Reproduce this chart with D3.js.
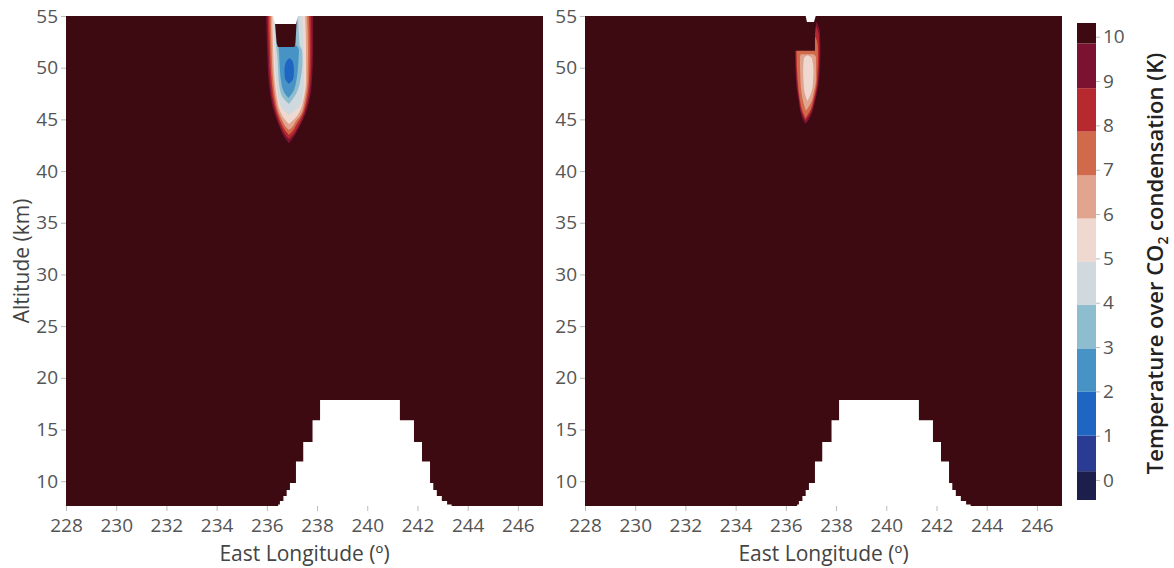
<!DOCTYPE html>
<html>
<head>
<meta charset="utf-8">
<script src="https://cdn.jsdelivr.net/npm/d3@7"></script>
<style>
    body { margin: 0; background: #fff; }
    svg { display: block; font-family: "Open Sans", sans-serif; }
</style>
</head>
<body>
<svg id="chart" width="1174" height="568"></svg>
<script>
// axis ranges and ticks
const lonDomain = [228, 247];
const altDomain = [7.6, 55];
const lonTicks = [228, 230, 232, 234, 236, 238, 240, 242, 244, 246];
const altTicks = [10, 15, 20, 25, 30, 35, 40, 45, 50, 55];

// colorbar: band edges, colors bottom -> top
const cbarDomain = [-0.45, 10.31];
const bandBreaks = [0.2, 1.0, 1.99, 2.97, 3.95, 4.92, 5.9, 6.87, 7.86, 8.84, 9.85];
const bandColors = ["#1c1f4b", "#2a3b93", "#1f66c2", "#4893c6", "#8fbdd0", "#d0d9de",
                    "#efd8d0", "#e0a48f", "#d16a4b", "#b62a2f", "#7b1231", "#3e0a11"];
const cbarTicks = [0, 1, 2, 3, 4, 5, 6, 7, 8, 9, 10];

// contour outlines: [level, rows of [altitude, west lon, east lon]]
const leftContours = [
    [10, [[55.5, 235.97, 237.84], [51.7, 236.01, 237.84], [48.8, 236.07, 237.80], [46.9, 236.17, 237.70], [45.4, 236.33, 237.52], [44.2, 236.52, 237.28], [43.2, 236.72, 237.04], [42.7, 236.88, 236.88]]],
    [9,  [[55.5, 236.03, 237.76], [51.7, 236.07, 237.78], [48.8, 236.13, 237.74], [46.9, 236.23, 237.64], [45.4, 236.39, 237.46], [44.2, 236.58, 237.22], [43.5, 236.74, 237.04], [43.1, 236.88, 236.88]]],
    [8,  [[55.5, 236.09, 237.68], [51.7, 236.13, 237.71], [48.8, 236.19, 237.68], [46.9, 236.29, 237.58], [45.4, 236.45, 237.40], [44.5, 236.60, 237.18], [43.9, 236.74, 237.04], [43.5, 236.88, 236.88]]],
    [7,  [[55.5, 236.15, 237.60], [51.7, 236.19, 237.64], [48.8, 236.25, 237.62], [46.9, 236.35, 237.52], [45.4, 236.51, 237.34], [44.75, 236.64, 237.14], [44.26, 236.76, 237.02], [43.97, 236.88, 236.88]]],
    [6,  [[55.5, 236.21, 237.52], [51.7, 236.25, 237.56], [48.8, 236.31, 237.56], [46.9, 236.41, 237.46], [45.9, 236.51, 237.34], [45.13, 236.67, 237.14], [44.55, 236.88, 236.88]]],
    [5,  [[55.5, 236.27, 237.40], [51.7, 236.31, 237.46], [48.8, 236.37, 237.48], [46.9, 236.48, 237.40], [46.1, 236.60, 237.24], [45.42, 236.88, 236.88]]],
    [4,  [[55.5, 236.33, 237.24], [52.2, 236.37, 237.30], [51.7, 236.39, 237.40], [50.74, 236.43, 237.42], [48.8, 236.47, 237.34], [47.36, 236.58, 237.14], [46.49, 236.88, 236.88]]],
    [3,  [[52.3, 236.45, 237.12], [51.7, 236.48, 237.28], [50.74, 236.50, 237.26], [48.8, 236.56, 237.18], [47.65, 236.68, 237.04], [47.07, 236.86, 236.86]]],
    [2,  [[50.94, 236.90, 236.90], [50.55, 236.76, 237.04], [49.78, 236.70, 237.08], [49.0, 236.72, 237.06], [48.42, 236.88, 236.88]]]
];
const rightContours = [
    [10, [[54.4, 237.21, 237.23], [53.5, 237.12, 237.36], [51.64, 236.37, 237.38], [48.8, 236.40, 237.32], [46.9, 236.50, 237.18], [45.4, 236.62, 237.00], [44.9, 236.70, 236.90], [44.55, 236.78, 236.78]]],
    [9,  [[54.0, 237.21, 237.21], [53.0, 237.12, 237.32], [51.64, 236.39, 237.33], [48.8, 236.44, 237.28], [46.9, 236.53, 237.14], [45.6, 236.64, 236.98], [44.85, 236.78, 236.78]]],
    [8,  [[53.0, 237.17, 237.17], [52.5, 237.12, 237.25], [51.64, 236.43, 237.28], [48.8, 236.47, 237.24], [46.9, 236.56, 237.10], [45.8, 236.66, 236.96], [45.1, 236.78, 236.78]]],
    [7,  [[51.3, 236.60, 237.10], [51.0, 236.56, 237.20], [48.8, 236.58, 237.20], [47.7, 236.62, 237.12], [46.6, 236.70, 237.00], [45.84, 236.80, 236.80]]],
    [6,  [[51.2, 236.86, 236.86], [50.9, 236.72, 237.04], [49.8, 236.69, 237.10], [48.5, 236.71, 237.08], [47.5, 236.76, 237.00], [46.78, 236.86, 236.86]]]
];

// warm cap and missing cells at the model top: [lon, alt]
const leftCap = [[236.31, 55.5], [237.20, 55.5], [237.18, 54.2], [237.14, 52.4], [237.10, 52.0], [236.44, 52.0], [236.39, 52.4], [236.33, 54.2]];
const leftNotch = [[236.25, 55.5], [237.24, 55.5], [237.24, 55.0], [237.16, 54.23], [236.33, 54.23], [236.25, 55.0]];
const rightCap = [[236.30, 55.5], [237.16, 55.5], [237.16, 51.64], [236.30, 51.64]];
const rightNotch = [[236.79, 55.5], [237.19, 55.5], [237.19, 55.0], [237.12, 54.42], [236.84, 54.42], [236.79, 55.0]];

// topography (no data below): [top altitude, west lon, east lon]
const terrainRows = [
    [17.85, 238.12, 241.30],
    [15.9, 237.82, 241.86],
    [13.8, 237.45, 242.18],
    [11.9, 237.16, 242.50],
    [9.82, 236.92, 242.63],
    [9.14, 236.79, 242.77],
    [8.56, 236.66, 242.97],
    [8.08, 236.52, 243.18],
    [7.75, 236.45, 243.36]
];

const plotTop = 16, plotBottom = 506, plotWidth = 477;
const panels = [
    { left: 66, contours: leftContours, cap: leftCap, notch: leftNotch },
    { left: 585, contours: rightContours, cap: rightCap, notch: rightNotch }
];

const bandColor = d3.scaleThreshold().domain(bandBreaks).range(bandColors);

const svg = d3.select("#chart");
panels.forEach((p, i) => drawPanel(p, i));
drawColorbar();

function stepOutline(rows, bottomAlt) {
    const east = [], west = [];
    rows.forEach((r, i) => {
        const next = i + 1 < rows.length ? rows[i + 1][0] : bottomAlt;
        east.push([r[2], r[0]], [r[2], next]);
        west.push([r[1], r[0]], [r[1], next]);
    });
    return east.concat(west.reverse());
}

function styleTicks(a) {
    a.select(".domain").remove();
    a.selectAll(".tick line").attr("stroke", "#bbb");
    a.selectAll(".tick text")
        .attr("fill", "#555")
        .style("font-size", "19px")
        .style("font-family", '"Open Sans", sans-serif');
}

function drawPanel(p, i) {
    const x = d3.scaleLinear().domain(lonDomain).range([p.left, p.left + plotWidth]);
    const y = d3.scaleLinear().domain(altDomain).range([plotBottom, plotTop]);

    svg.append("clipPath").attr("id", "clip" + i)
        .append("rect")
        .attr("x", p.left).attr("y", plotTop)
        .attr("width", plotWidth).attr("height", plotBottom - plotTop);

    const g = svg.append("g").attr("clip-path", `url(#clip${i})`);

    g.append("rect")
        .attr("x", p.left).attr("y", plotTop)
        .attr("width", plotWidth).attr("height", plotBottom - plotTop)
        .attr("fill", bandColors[bandColors.length - 1]);

    const area = d3.area()
        .curve(d3.curveMonotoneY)
        .y(d => y(d[0]))
        .x0(d => x(d[1]))
        .x1(d => x(d[2]));

    p.contours.forEach(([level, rows]) => {
        g.append("path")
            .attr("d", area(rows))
            .attr("fill", bandColor(level - 0.5));
    });

    const line = d3.line().x(d => x(d[0])).y(d => y(d[1]));

    g.append("path").attr("d", line(p.cap) + "Z").attr("fill", bandColors[bandColors.length - 1]);
    g.append("path").attr("d", line(p.notch) + "Z").attr("fill", "#fff");
    g.append("path").attr("d", line(stepOutline(terrainRows, 7.0)) + "Z").attr("fill", "#fff");

    // axes
    svg.append("g")
        .attr("transform", `translate(0,${plotBottom})`)
        .call(d3.axisBottom(x).tickValues(lonTicks).tickSize(5).tickPadding(8))
        .call(styleTicks);
    svg.append("g")
        .attr("transform", `translate(${p.left},0)`)
        .call(d3.axisLeft(y).tickValues(altTicks).tickSize(5).tickPadding(3))
        .call(styleTicks);

    svg.append("text")
        .attr("x", p.left + plotWidth / 2)
        .attr("y", 561)
        .attr("text-anchor", "middle")
        .attr("fill", "#444")
        .style("font-size", "21px")
        .text("East Longitude (º)");

    if (i === 0) {
        svg.append("text")
            .attr("transform", `translate(29,${(plotTop + plotBottom) / 2}) rotate(-90)`)
            .attr("text-anchor", "middle")
            .attr("fill", "#444")
            .style("font-size", "21px")
            .text("Altitude (km)");
    }
}

function drawColorbar() {
    const cx = 1077, cw = 19;
    const cy = d3.scaleLinear().domain(cbarDomain).range([500, 23]);
    const edges = [cbarDomain[0]].concat(bandBreaks, [cbarDomain[1]]);

    svg.append("g").selectAll("rect")
        .data(bandColors)
        .join("rect")
        .attr("x", cx)
        .attr("width", cw)
        .attr("y", (d, k) => cy(edges[k + 1]))
        .attr("height", (d, k) => cy(edges[k]) - cy(edges[k + 1]))
        .attr("fill", d => d);

    svg.append("g")
        .attr("transform", `translate(${cx + cw},0)`)
        .call(d3.axisRight(cy).tickValues(cbarTicks).tickSize(4).tickPadding(3))
        .call(styleTicks);

    const title = svg.append("text")
        .attr("transform", `translate(1163,${(23 + 500) / 2 + 2}) rotate(-90)`)
        .attr("text-anchor", "middle")
        .attr("fill", "#222")
        .style("font-size", "22px")
        .style("font-weight", 600);
    title.append("tspan").text("Temperature over CO");
    title.append("tspan").attr("dy", 5).style("font-size", "14px").text("2");
    title.append("tspan").attr("dy", -5).text(" condensation (K)");
}
</script>
</body>
</html>
